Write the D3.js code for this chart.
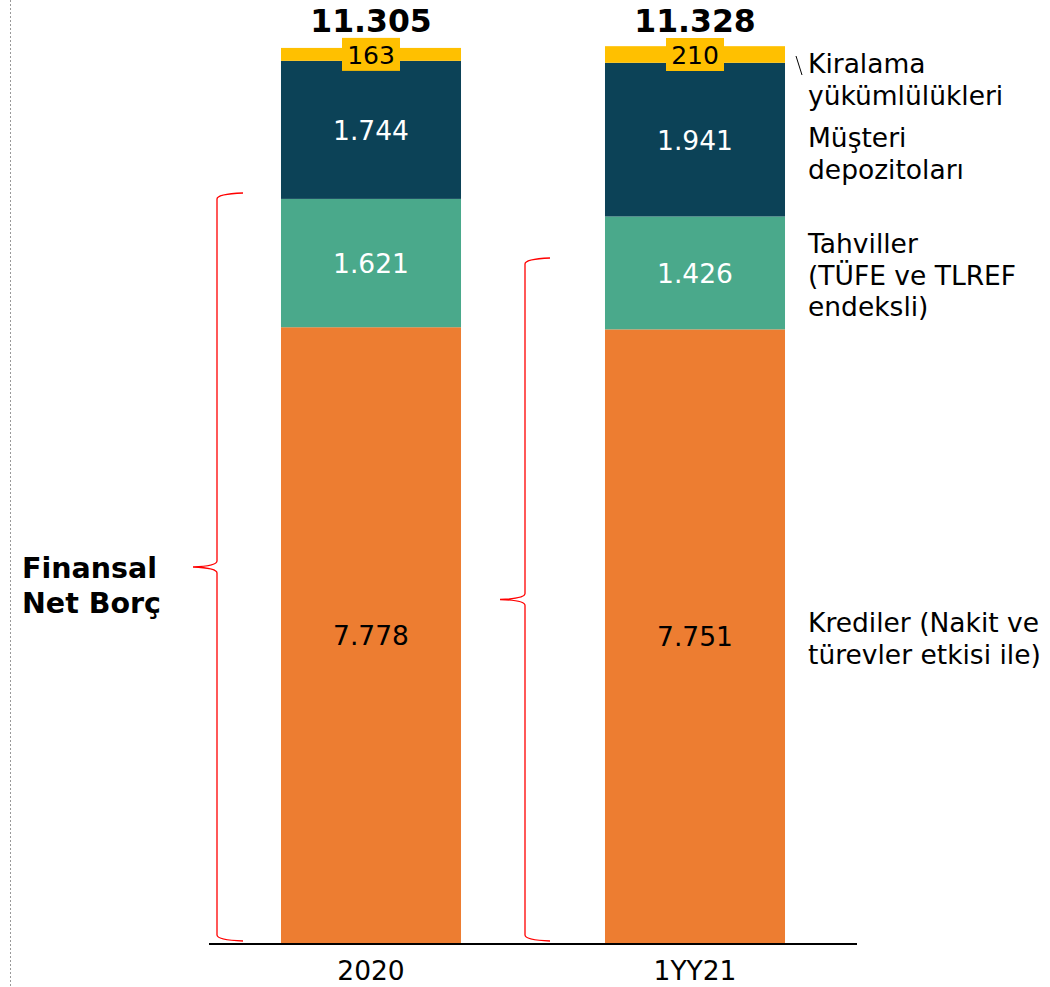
<!DOCTYPE html>
<html><head><meta charset="utf-8">
<script src="https://cdn.jsdelivr.net/npm/d3@7"></script>
<style>body{margin:0;background:#fff}svg{display:block}text{font-family:"DejaVu Sans",Verdana,sans-serif}</style>
</head><body>
<script>
const categories = ["2020", "1YY21"];
const seriesNames = ["Krediler", "Tahviller", "Müşteri depozitoları", "Kiralama yükümlülükleri"];
const krediler = [7778, 7751];
const tahviller = [1621, 1426];
const depozito = [1744, 1941];
const kiralama = [163, 210];
const totals = [11305, 11328];
const colors = ["#ED7D31", "#4AA98B", "#0C4257", "#FFC000"];
const labelColors = ["#000", "#fff", "#fff", "#000"];
const fmt = v => d3.format(",")(v).replace(/,/g, ".");

const W = 1050, H = 987;
const svg = d3.select("body").append("svg").attr("width", W).attr("height", H);

const x = d3.scaleBand().domain(categories).range([209, 857]).paddingInner(0.4444).paddingOuter(0.2222);
const y = d3.scaleLinear().domain([0, 11305]).range([943, 48]);

const rows = categories.map((c, i) => ({cat: c, Krediler: krediler[i], Tahviller: tahviller[i], "Müşteri depozitoları": depozito[i], "Kiralama yükümlülükleri": kiralama[i]}));
const stack = d3.stack().keys(seriesNames)(rows);

// dotted left line
svg.append("line").attr("x1", 10.5).attr("x2", 10.5).attr("y1", 0).attr("y2", H)
  .attr("stroke", "#999").attr("stroke-width", 1).attr("stroke-dasharray", "2,2");

stack.forEach((s, k) => {
  svg.append("g").selectAll("rect").data(s).join("rect")
    .attr("x", d => x(d.data.cat)).attr("width", x.bandwidth())
    .attr("y", d => y(d[1])).attr("height", d => y(d[0]) - y(d[1]))
    .attr("fill", colors[k]);
});

// segment labels (first three)
stack.slice(0, 3).forEach((s, k) => {
  svg.append("g").selectAll("text").data(s).join("text")
    .attr("x", d => x(d.data.cat) + x.bandwidth() / 2)
    .attr("y", d => (y(d[0]) + y(d[1])) / 2)
    .attr("dy", "0.38em").attr("text-anchor", "middle")
    .attr("font-size", 26.5).attr("fill", labelColors[k])
    .text(d => fmt(d[1] - d[0]));
});

// kiralama labels with box
const topSeries = stack[3];
topSeries.forEach(d => {
  const cx = x(d.data.cat) + x.bandwidth() / 2;
  const cy = (y(d[0]) + y(d[1])) / 2;
  svg.append("rect").attr("x", cx - 29).attr("y", cy - 16.5).attr("width", 58).attr("height", 33).attr("fill", colors[3]);
  svg.append("text").attr("x", cx).attr("y", cy).attr("dy", "0.38em").attr("text-anchor", "middle")
    .attr("font-size", 25).attr("fill", "#000").text(fmt(d[1] - d[0]));
});

// totals
svg.append("g").selectAll("text").data(categories).join("text")
  .attr("x", c => x(c) + x.bandwidth() / 2).attr("y", 32)
  .attr("text-anchor", "middle").attr("font-size", 31.5).attr("font-weight", "bold")
  .text((c, i) => fmt(totals[i]));

// axis
const axis = svg.append("g").attr("transform", "translate(0,943)")
  .call(d3.axisBottom(x).tickSize(0).tickPadding(18));
axis.select(".domain").attr("stroke", "#000").attr("stroke-width", 2).attr("d", "M209,1H857");
axis.selectAll("text").attr("font-size", 26.5).attr("font-family", "DejaVu Sans, Verdana, sans-serif").attr("fill", "#000");

// right annotations
const ann = [
  {lines: ["Kiralama", "yükümlülükleri"], y: 73},
  {lines: ["Müşteri", "depozitoları"], y: 147},
  {lines: ["Tahviller", "(TÜFE ve TLREF", "endeksli)"], y: 253},
  {lines: ["Krediler (Nakit ve", "türevler etkisi ile)"], y: 632}
];
ann.forEach(a => {
  const t = svg.append("text").attr("x", 808).attr("y", a.y).attr("font-size", 26.5).attr("fill", "#000");
  a.lines.forEach((l, i) => t.append("tspan").attr("x", 808).attr("dy", i === 0 ? 0 : 31.5).text(l));
});
svg.append("line").attr("x1", 796).attr("y1", 56).attr("x2", 802).attr("y2", 75).attr("stroke", "#000").attr("stroke-width", 1);

// braces
function brace(xv, y0, y1, tip, hook) {
  const m = (y0 + y1) / 2;
  return `M${xv + hook},${y0} Q${xv},${y0 + 1} ${xv},${y0 + 6} L${xv},${m - 6} Q${xv},${m - 1} ${tip},${m} Q${xv},${m + 1} ${xv},${m + 6} L${xv},${y1 - 6} Q${xv},${y1 - 1} ${xv + hook},${y1}`;
}
svg.append("path").attr("d", brace(217, 193, 941, 193, 26)).attr("fill", "none").attr("stroke", "#f00").attr("stroke-width", 1.3);
svg.append("path").attr("d", brace(525, 258, 941, 500, 25)).attr("fill", "none").attr("stroke", "#f00").attr("stroke-width", 1.3);

// left label
const fl = svg.append("text").attr("x", 22).attr("y", 578).attr("font-size", 28.5).attr("font-weight", "bold");
fl.append("tspan").attr("x", 22).text("Finansal");
fl.append("tspan").attr("x", 22).attr("dy", 35).text("Net Borç");
</script>
</body></html>
